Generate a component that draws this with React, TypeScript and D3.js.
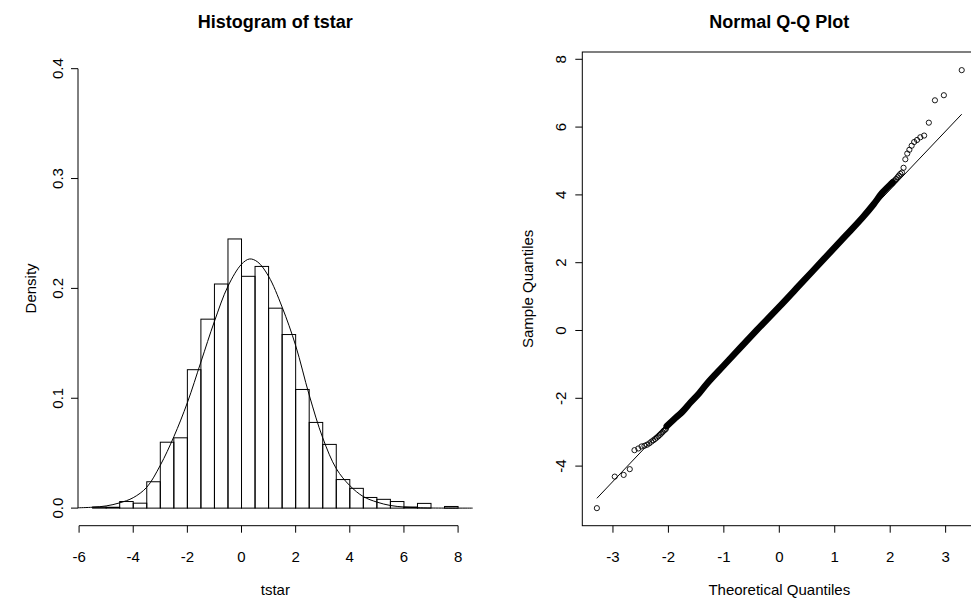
import * as d3 from "d3";

// histogram of tstar: bins of width 0.5, left edges and densities
const binStarts = [-5.5, -5, -4.5, -4, -3.5, -3, -2.5, -2, -1.5, -1, -0.5, 0, 0.5, 1, 1.5, 2, 2.5, 3, 3.5, 4, 4.5, 5, 5.5, 6, 6.5, 7, 7.5];
const binDensity = [0.001, 0.0008, 0.006, 0.0045, 0.024, 0.06, 0.064, 0.126, 0.172, 0.204, 0.245, 0.211, 0.22, 0.182, 0.158, 0.108, 0.078, 0.058, 0.026, 0.018, 0.0097, 0.008, 0.006, 0.001, 0.0043, 0, 0.0015];
const binWidth = 0.5;

// density curve
const curveX = [-6.04, -5.5, -5, -4.5, -4, -3.5, -3, -2.5, -2, -1.5, -1, -0.5, 0, 0.3, 0.6, 1, 1.5, 2, 2.5, 3, 3.5, 4, 4.5, 5, 5.5, 6, 6.5, 7, 8.54];
const curveY = [0.0003, 0.0008, 0.002, 0.0048, 0.0095, 0.019, 0.039, 0.065, 0.096, 0.133, 0.17, 0.202, 0.222, 0.2268, 0.224, 0.211, 0.183, 0.148, 0.103, 0.064, 0.036, 0.0205, 0.0105, 0.0055, 0.0024, 0.001, 0.0004, 0.0001, 0];

const histXTicks = [-6, -4, -2, 0, 2, 4, 6, 8];
const histYTicks = [0, 0.1, 0.2, 0.3, 0.4];

// Q-Q plot: separate points in the tails
const qqTailT = [-3.29, -2.968, -2.807, -2.697, -2.612, -2.543, -2.484, -2.432, -2.387, -2.346, -2.308, -2.273, -2.241, -2.212, -2.183, -2.157, -2.132, -2.108, -2.086, -2.064, -2.044,
  2.044, 2.064, 2.086, 2.108, 2.132, 2.157, 2.183, 2.212, 2.241, 2.273, 2.308, 2.346, 2.387, 2.432, 2.484, 2.543, 2.612, 2.697, 2.807, 2.968, 3.29];
const qqTailS = [-5.24, -4.31, -4.26, -4.09, -3.53, -3.48, -3.42, -3.40, -3.37, -3.33, -3.28, -3.24, -3.20, -3.16, -3.12, -3.08, -3.04, -3.0, -2.96, -2.93, -2.90,
  4.38, 4.40, 4.43, 4.47, 4.52, 4.57, 4.62, 4.66, 4.80, 5.05, 5.22, 5.33, 5.45, 5.56, 5.62, 5.70, 5.75, 6.13, 6.79, 6.94, 7.68];
// Q-Q plot: dense middle of the points, read as a band
const qqBandT = [-2.03, -1.9, -1.75, -1.6, -1.45, -1.3, -1.0, -0.7, -0.4, 0, 0.4, 0.8, 1.2, 1.5, 1.7, 1.85, 2.0, 2.04];
const qqBandS = [-2.82, -2.62, -2.4, -2.12, -1.86, -1.56, -1.03, -0.5, 0.02, 0.7, 1.4, 2.1, 2.8, 3.33, 3.72, 4.05, 4.3, 4.36];
// qqline ends
const qqLineT = [-3.29, 3.29];
const qqLineS = [-4.95, 6.38];

const qqXTicks = [-3, -2, -1, 0, 1, 2, 3];
const qqYTicks = [-4, -2, 0, 2, 4, 6, 8];

const font = "'Liberation Sans', Arial, Helvetica, sans-serif";
const tickLen = 7;
const fs = 15;

function fmt1(v: number) {
  return v.toFixed(1);
}

export default function App() {
  // left panel
  const hx = d3.scaleLinear().domain([-6.04, 8.54]).range([78, 472.7]);
  const hy = d3.scaleLinear().domain([-0.016, 0.416]).range([525.7, 51.1]);
  const hBottom = hy(-0.016);
  const hLeft = hx(-6.04);

  const curvePts: [number, number][] = curveX.map((x, i) => [x, curveY[i]]);
  const densityLine = d3.line<[number, number]>()
    .x(d => hx(d[0]))
    .y(d => hy(d[1]))
    .curve(d3.curveCatmullRom.alpha(0.5));

  // right panel
  const qx = d3.scaleLinear().domain([-3.553, 3.553]).range([582.3, 976.3]);
  const qy = d3.scaleLinear().domain([-5.758, 8.215]).range([525.7, 52]);
  const qTop = qy(8.215);
  const qBottom = qy(-5.758);
  const qLeft = qx(-3.553);
  const qRight = qx(3.553);

  const bandPts: [number, number][] = qqBandT.map((t, i) => [t, qqBandS[i]]);
  const bandLine = d3.line<[number, number]>()
    .x(d => qx(d[0]))
    .y(d => qy(d[1]))
    .curve(d3.curveCatmullRom.alpha(0.5));

  return (
    <svg width={971} height={602} style={{ position: "fixed", left: 0, top: 0, background: "#fff" }} fontFamily={font}>
      <rect x={0} y={0} width={971} height={602} fill="#fff" />

      {/* ---------- Histogram ---------- */}
      <text x={(hx(-6.04) + hx(8.54)) / 2} y={28} textAnchor="middle" fontWeight="bold" fontSize={18}>Histogram of tstar</text>

      {binStarts.map((b, i) => (
        <rect key={"bar" + i} x={hx(b)} y={hy(binDensity[i])} width={hx(b + binWidth) - hx(b)}
          height={hy(0) - hy(binDensity[i])} fill="none" stroke="#000" strokeWidth={1} />
      ))}

      <path d={densityLine(curvePts) || ""} fill="none" stroke="#000" strokeWidth={1} />

      {/* x axis */}
      <line x1={hx(-6)} x2={hx(8)} y1={hBottom} y2={hBottom} stroke="#000" />
      {histXTicks.map(t => (
        <g key={"hxt" + t}>
          <line x1={hx(t)} x2={hx(t)} y1={hBottom} y2={hBottom + tickLen} stroke="#000" />
          <text x={hx(t)} y={hBottom + 36} textAnchor="middle" fontSize={fs}>{t}</text>
        </g>
      ))}
      <text x={(hx(-6.04) + hx(8.54)) / 2} y={595} textAnchor="middle" fontSize={fs}>tstar</text>

      {/* y axis */}
      <line x1={hLeft} x2={hLeft} y1={hy(0)} y2={hy(0.4)} stroke="#000" />
      {histYTicks.map(t => (
        <g key={"hyt" + t}>
          <line x1={hLeft - tickLen} x2={hLeft} y1={hy(t)} y2={hy(t)} stroke="#000" />
          <text transform={`translate(${hLeft - 15.5},${hy(t)}) rotate(-90)`} textAnchor="middle" fontSize={fs}>{fmt1(t)}</text>
        </g>
      ))}
      <text transform={`translate(35.5,${(hy(-0.016) + hy(0.416)) / 2}) rotate(-90)`} textAnchor="middle" fontSize={fs}>Density</text>

      {/* ---------- Normal Q-Q ---------- */}
      <text x={(qLeft + qRight) / 2} y={28} textAnchor="middle" fontWeight="bold" fontSize={18}>Normal Q-Q Plot</text>

      <rect x={qLeft} y={qTop} width={qRight - qLeft} height={qBottom - qTop} fill="none" stroke="#000" />

      <line x1={qx(qqLineT[0])} y1={qy(qqLineS[0])} x2={qx(qqLineT[1])} y2={qy(qqLineS[1])} stroke="#000" strokeWidth={1} />

      <path d={bandLine(bandPts) || ""} fill="none" stroke="#000" strokeWidth={6.5} strokeLinecap="round" strokeLinejoin="round" />
      {qqTailT.map((t, i) => (
        <circle key={"pt" + i} cx={qx(t)} cy={qy(qqTailS[i])} r={2.6} fill="none" stroke="#000" strokeWidth={0.9} />
      ))}

      {/* x axis */}
      {qqXTicks.map(t => (
        <g key={"qxt" + t}>
          <line x1={qx(t)} x2={qx(t)} y1={qBottom} y2={qBottom + tickLen} stroke="#000" />
          <text x={qx(t)} y={qBottom + 36} textAnchor="middle" fontSize={fs}>{t}</text>
        </g>
      ))}
      <text x={(qLeft + qRight) / 2} y={595} textAnchor="middle" fontSize={fs}>Theoretical Quantiles</text>

      {/* y axis */}
      {qqYTicks.map(t => (
        <g key={"qyt" + t}>
          <line x1={qLeft - tickLen} x2={qLeft} y1={qy(t)} y2={qy(t)} stroke="#000" />
          <text transform={`translate(${qLeft - 16.5},${qy(t)}) rotate(-90)`} textAnchor="middle" fontSize={fs}>{t}</text>
        </g>
      ))}
      <text transform={`translate(532.5,${(qTop + qBottom) / 2}) rotate(-90)`} textAnchor="middle" fontSize={fs}>Sample Quantiles</text>
    </svg>
  );
}
